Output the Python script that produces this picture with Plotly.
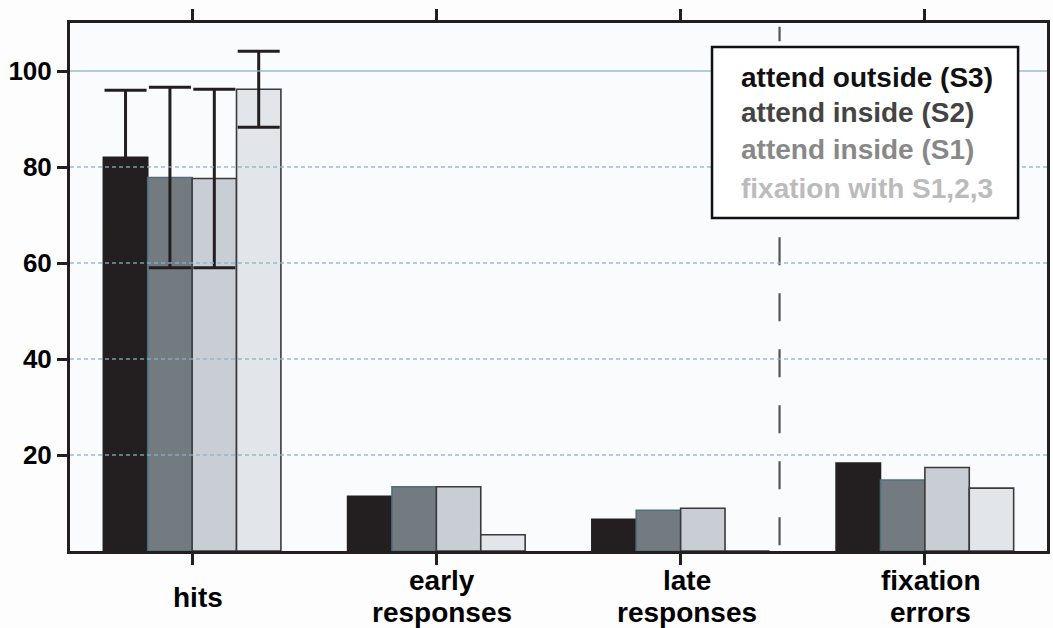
import plotly.graph_objects as go

categories = ["hits", "early<br>responses", "late<br>responses", "fixation<br>errors"]
series_names = ["attend outside (S3)", "attend inside (S2)", "attend inside (S1)", "fixation with S1,2,3"]

s3_values = [82.0, 11.4, 6.6, 18.3]
s2_values = [77.8, 13.4, 8.5, 14.8]
s1_values = [77.6, 13.4, 8.9, 17.4]
fix_values = [96.2, 3.4, 0.0, 13.1]

# error bars exist only for the "hits" category
s3_err = [14.0]
s2_err = [18.8]
s1_err = [18.6]
fix_err = [7.9]

y_tickvals = [20, 40, 60, 80, 100]
divider_x = 2.405

bar_colors = ["#231f20", "#737b80", "#c9cdd4", "#e2e5ea"]
edge_colors = ["#231f20", "#4f6f7c", "#3a3a3a", "#3a3a3a"]
text_colors = ["#111111", "#444444", "#888888", "#bbbbbb"]

values = [s3_values, s2_values, s1_values, fix_values]
errors = [s3_err, s2_err, s1_err, fix_err]

FONT = "Liberation Sans, Arial, Helvetica, sans-serif"

# plot-area geometry in pixels
L, R, T, B = 70, 1050, 23, 551
W, H = R - L, B - T

def px_x(p):
    return (p - L) / W

def px_y(p):
    return (B - p) / H

fig = go.Figure()
for name, vals, err, col, edge in zip(series_names, values, errors, bar_colors, edge_colors):
    fig.add_trace(go.Bar(
        x=list(range(len(categories))), y=vals, name=name,
        marker=dict(color=col, line=dict(color=edge, width=1.6)),
        error_y=dict(type="data", array=err, visible=True, color="#231f20", thickness=3, width=21),
        showlegend=False,
    ))

shapes = []
# dashed divider (drawn bottom -> top so the dash phase matches)
shapes.append(dict(type="line", xref="x", yref="y", x0=divider_x, x1=divider_x, y0=1.2, y1=109.2,
                   line=dict(color="#555555", width=2.2, dash="28px,28px"), layer="above"))
# gridlines
for v in y_tickvals:
    shapes.append(dict(type="line", xref="paper", yref="y", x0=0, x1=1, y0=v, y1=v,
                       line=dict(color="#86b4cc", width=1.3, dash="solid" if v == 100 else "4px,3px"),
                       layer="above", opacity=0.85))
# legend box
shapes.append(dict(type="rect", xref="paper", yref="paper",
                   x0=px_x(714), x1=px_x(1021), y0=px_y(218), y1=px_y(47),
                   fillcolor="white", line=dict(color="#111111", width=2.5), layer="above"))

annotations = []
legend_y_px = [77, 113, 150, 188]
for name, tc, py in zip(series_names, text_colors, legend_y_px):
    annotations.append(dict(text="<b>%s</b>" % name, xref="paper", yref="paper",
                            x=px_x(741), y=px_y(py), xanchor="left", yanchor="middle",
                            showarrow=False, font=dict(family=FONT, size=28, color=tc)))
for i, c in enumerate(categories):
    lines = c.split("<br>")
    if len(lines) == 1:
        centers = [597]
    else:
        centers = [580, 612]
    for line, cy in zip(lines, centers):
        annotations.append(dict(text="<b>%s</b>" % line, xref="x", yref="paper", x=i, y=px_y(cy),
                                xanchor="center", yanchor="middle", showarrow=False, xshift=6,
                                font=dict(family=FONT, size=28, color="#000000")))

fig.update_layout(
    width=1053, height=628,
    margin=dict(l=L, r=1053 - R, t=T, b=628 - B),
    barmode="group", bargap=0.273, bargroupgap=0,
    paper_bgcolor="#fdfdfe", plot_bgcolor="#fafbfd",
    font=dict(family=FONT, size=26, color="#000000"),
    shapes=shapes, annotations=annotations,
    xaxis=dict(range=[-0.5, 3.5], tickvals=list(range(len(categories))), showticklabels=False,
               ticks="outside", ticklen=11, tickwidth=2.5, tickcolor="#231f20",
               showline=True, linecolor="#231f20", linewidth=3, mirror="ticks",
               showgrid=False, zeroline=False, fixedrange=True),
    yaxis=dict(range=[0, 110], tickvals=y_tickvals, ticktext=["<b>%d</b>" % v for v in y_tickvals],
               ticks="outside", ticklen=10, tickwidth=2.5, tickcolor="#231f20", ticklabelstandoff=0,
               showline=True, linecolor="#231f20", linewidth=3, mirror=True,
               showgrid=False, zeroline=False, fixedrange=True,
               tickfont=dict(family=FONT, size=26, color="#000000")),
)

fig.write_html("out.html", config={"displayModeBar": False},
               post_script="document.body.style.margin='0';document.body.style.padding='0';"
                           "document.body.style.overflow='hidden';")
